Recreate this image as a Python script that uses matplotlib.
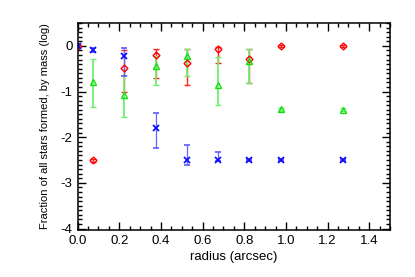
import numpy as np
import matplotlib
matplotlib.use('Agg')
import matplotlib.pyplot as plt
from matplotlib.ticker import MultipleLocator

plt.rcParams['font.family'] = ['Liberation Sans', 'DejaVu Sans']

# radius bins (arcsec)
radius = [0.0, 0.075, 0.225, 0.375, 0.525, 0.675, 0.825, 0.975, 1.275]

# blue crosses
blue_y = [0.0, -0.09, -0.22, -1.80, -2.51, -2.50, -2.50, -2.50, -2.50]
blue_up = [0.0, 0.04, 0.17, 0.34, 0.34, 0.17, 0.03, 0.02, 0.02]
blue_lo = [0.0, 0.04, 0.45, 0.44, 0.09, 0.03, 0.03, 0.02, 0.02]

# red diamonds
red_y = [0.0, -2.51, -0.49, -0.21, -0.38, -0.07, -0.28, -0.01, -0.01]
red_up = [0.0, 0.03, 0.40, 0.14, 0.31, 0.04, 0.21, 0.02, 0.02]
red_lo = [0.0, 0.03, 0.53, 0.50, 0.47, 0.31, 0.54, 0.02, 0.02]

# green triangles (no point at r=0)
green_r = radius[1:]
green_y = [-0.80, -1.08, -0.44, -0.23, -0.85, -0.33, -1.39, -1.40]
green_up = [0.51, 0.45, 0.22, 0.16, 0.60, 0.26, 0.03, 0.03]
green_lo = [0.54, 0.47, 0.41, 0.44, 0.44, 0.49, 0.03, 0.03]

fig = plt.figure(figsize=(4.15, 2.77), dpi=100)
ax = fig.add_axes([0.187, 0.170, 0.753, 0.747])

# red first, then green over it, blue on top
ax.errorbar(radius, red_y, yerr=[red_lo, red_up], fmt='D', color='red',
            ecolor='#ff2020', mfc='none', ms=3.5, mew=1.0,
            elinewidth=1.0, capsize=2, capthick=0.8)
ax.errorbar(green_r, green_y, yerr=[green_lo, green_up], fmt='^', color='#10e010',
            ecolor='#70f070', mfc='none', ms=4.5, mew=1.0,
            elinewidth=1.3, capsize=2, capthick=0.8)
ax.errorbar(radius, blue_y, yerr=[blue_lo, blue_up], fmt='x', color='#1010ff',
            ecolor='#6464ff', ms=4, mew=1.3,
            elinewidth=0.9, capsize=2, capthick=0.8)

ax.set_xlim(0, 1.5)
ax.set_ylim(-4.03, 0.5)
ax.xaxis.set_major_locator(MultipleLocator(0.2))
ax.xaxis.set_minor_locator(MultipleLocator(0.05))
ax.yaxis.set_minor_locator(MultipleLocator(0.1))
ax.set_yticks([0, -1, -2, -3, -4])
ax.set_yticklabels(['0', '-1', '-2', '-3', '-4'])
ax.tick_params(which='both', direction='in', top=True, right=True, labelsize=9.5)
ax.tick_params(which='major', length=6, width=1)
ax.tick_params(which='minor', length=3, width=1)
for s in ax.spines.values():
    s.set_linewidth(1.1)

ax.set_xlabel('radius (arcsec)', fontsize=9.5, labelpad=3)
ax.set_ylabel('Fraction of all stars formed, by mass (log)', fontsize=8, labelpad=8)

fig.savefig('out.png', dpi=100)
